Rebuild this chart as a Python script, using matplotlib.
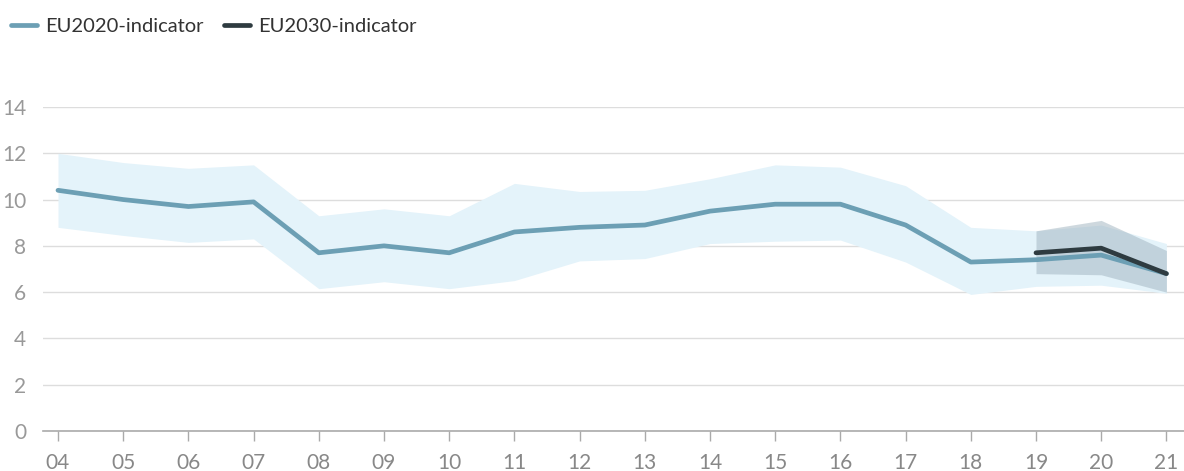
import matplotlib.pyplot as plt

years = ['04', '05', '06', '07', '08', '09', '10', '11', '12', '13',
         '14', '15', '16', '17', '18', '19', '20', '21']
eu2020 = [10.4, 10.0, 9.7, 9.9, 7.7, 8.0, 7.7, 8.6, 8.8, 8.9,
          9.5, 9.8, 9.8, 8.9, 7.3, 7.4, 7.6, 6.8]
eu2020_low = [8.8, 8.45, 8.15, 8.3, 6.15, 6.45, 6.15, 6.5, 7.35, 7.45,
              8.1, 8.2, 8.25, 7.3, 5.9, 6.25, 6.3, 5.95]
eu2020_high = [12.0, 11.6, 11.35, 11.5, 9.3, 9.6, 9.3, 10.7, 10.35, 10.4,
               10.9, 11.5, 11.4, 10.6, 8.8, 8.65, 8.9, 8.1]

years_2030 = ['19', '20', '21']
eu2030 = [7.7, 7.9, 6.8]
eu2030_low = [6.8, 6.75, 6.0]
eu2030_high = [8.65, 9.1, 7.8]

yticks = [0, 2, 4, 6, 8, 10, 12, 14]

plt.rcParams['font.family'] = ['Lato', 'DejaVu Sans']

fig = plt.figure(figsize=(11.84, 4.71), dpi=100)
ax = fig.add_axes([43 / 1184, 40 / 471, 1 - 43 / 1184, 324 / 471])

x = list(range(len(years)))
x30 = [years.index(y) for y in years_2030]

ax.fill_between(x, eu2020_low, eu2020_high, color='#e4f3fa', lw=0, zorder=1)
ax.fill_between(x30, eu2030_low, eu2030_high, color='#9fb3bf', alpha=0.5, lw=0, zorder=2)
l1, = ax.plot(x, eu2020, color='#6c9fb4', lw=3.4, solid_capstyle='round', zorder=3,
              label='EU2020-indicator')
l2, = ax.plot(x30, eu2030, color='#2e3b40', lw=3.4, solid_capstyle='round', zorder=4,
              label='EU2030-indicator')

ax.set_xlim(-0.23, 17.27)
ax.set_ylim(0, 14)
ax.set_xticks(x)
ax.set_xticklabels(years)
ax.set_yticks(yticks)
ax.set_yticklabels([str(v) for v in yticks])

ax.grid(axis='y', color='#dddddd', lw=1)
ax.set_axisbelow(True)
for s in ['top', 'right', 'left']:
    ax.spines[s].set_visible(False)
ax.spines['bottom'].set_color('#aaaaaa')
ax.spines['bottom'].set_linewidth(1.2)
ax.tick_params(axis='x', colors='#aaaaaa', length=7, width=1, labelcolor='#888888',
               labelsize=15, pad=9)
ax.tick_params(axis='y', length=0, labelcolor='#999999', labelsize=15, pad=12)
for lbl in ax.get_yticklabels():
    lbl.set_horizontalalignment('right')

fig.legend(handles=[l1, l2], loc='upper left', bbox_to_anchor=(-0.006, 1.0),
           ncol=2, frameon=False, fontsize=14.5, handlelength=1.3,
           handletextpad=0.4, columnspacing=1.0, labelcolor='#333333')

fig.savefig('out.png', dpi=100)
